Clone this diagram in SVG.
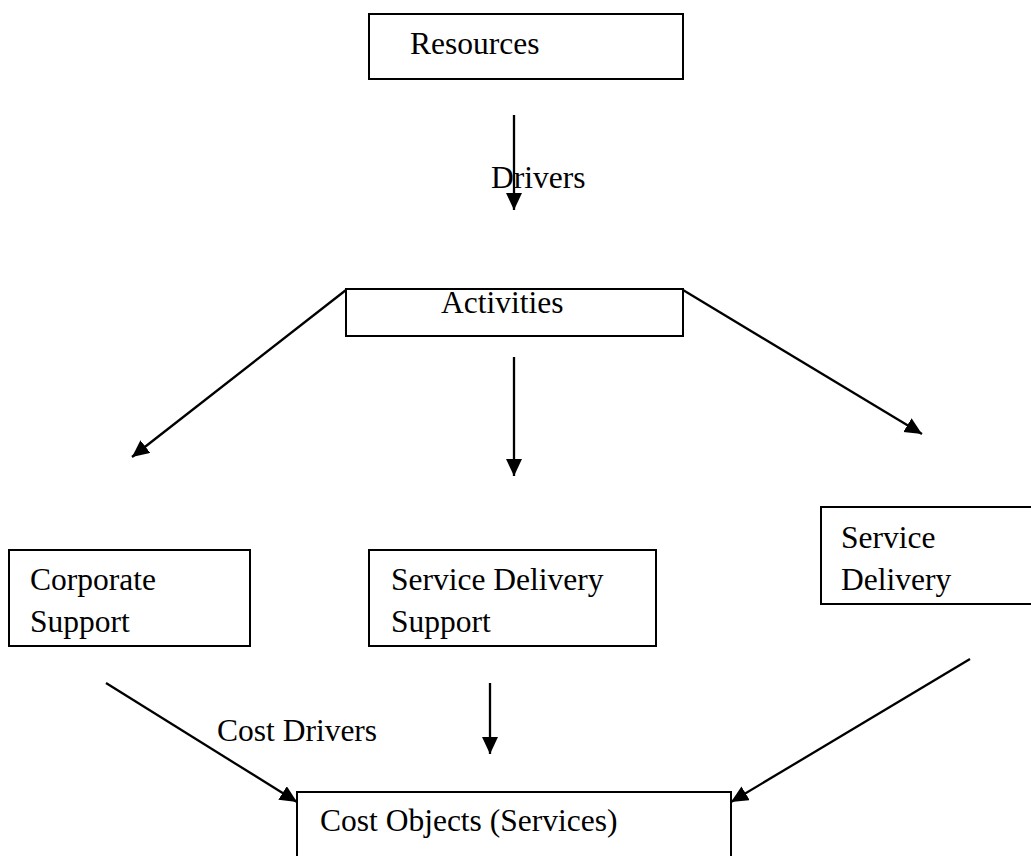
<svg xmlns="http://www.w3.org/2000/svg" width="1031" height="856" viewBox="0 0 1031 856">
<style>
.box{fill:#fff;stroke:#000;stroke-width:2}
.t{font-family:"Liberation Serif",serif;font-size:31.5px;fill:#000}
.c{stroke:#000;stroke-width:2.3;fill:none;marker-end:url(#ah)}
</style>
<defs>
<marker id="ah" markerUnits="userSpaceOnUse" markerWidth="18" markerHeight="17" refX="17" refY="8" orient="auto">
<path d="M0,0 L17,8 L0,16 z" fill="#000"/>
</marker>
</defs>
<g id="resources"><rect class="box" x="369" y="14" width="314" height="65"/><text class="t" x="410" y="54">Resources</text></g>
<g id="activities"><rect class="box" x="346" y="289" width="337" height="47"/><text class="t" x="441" y="313">Activities</text></g>
<g id="corporate"><rect class="box" x="9" y="550" width="241" height="96"/><text class="t" x="30" y="590">Corporate</text><text class="t" x="30" y="632">Support</text></g>
<g id="sds"><rect class="box" x="369" y="550" width="287" height="96"/><text class="t" x="391" y="590">Service Delivery</text><text class="t" x="391" y="632">Support</text></g>
<g id="sd"><rect class="box" x="821" y="507" width="212" height="97"/><text class="t" x="841" y="548">Service</text><text class="t" x="841" y="590">Delivery</text></g>
<g id="costobjects"><rect class="box" x="297" y="792" width="434" height="70"/><text class="t" x="320" y="831">Cost Objects (Services)</text></g>
<g id="connectors">
<line class="c" x1="514" y1="115" x2="514" y2="210"/>
<line class="c" x1="346" y1="290" x2="132" y2="457"/>
<line class="c" x1="514" y1="357" x2="514" y2="476"/>
<line class="c" x1="683" y1="290" x2="922" y2="434"/>
<line class="c" x1="106" y1="683" x2="297" y2="802"/>
<line class="c" x1="490" y1="683" x2="490" y2="754"/>
<line class="c" x1="970" y1="659" x2="731" y2="802"/>
<text class="t" x="491" y="188">Drivers</text>
<text class="t" x="217" y="741">Cost Drivers</text>
</g>
</svg>
